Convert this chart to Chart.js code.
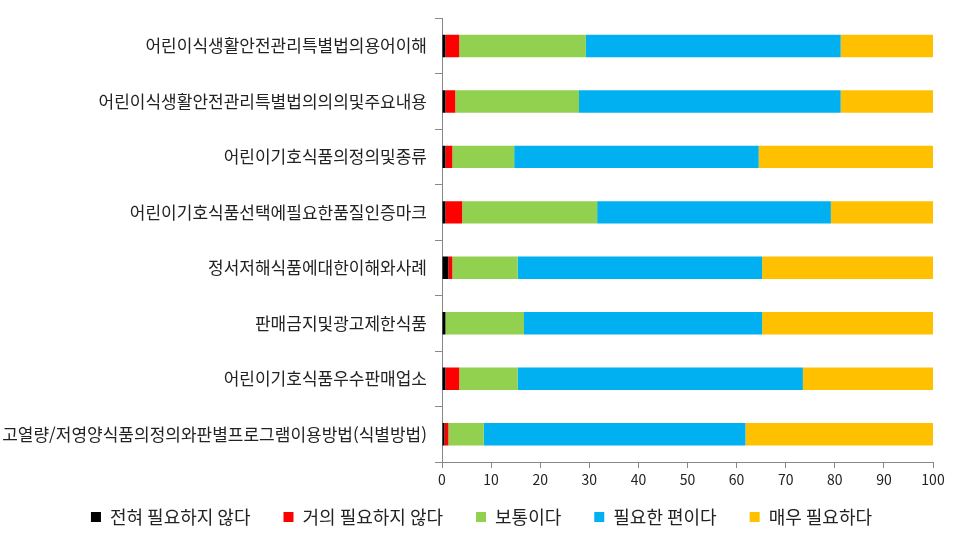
<!DOCTYPE html>
<html lang="ko">
<head>
    <meta charset="UTF-8">
    <title>Chart</title>
    <script src="https://cdn.jsdelivr.net/npm/chart.js@4.4.1/dist/chart.umd.min.js"></script>
    <style>
        html, body { margin: 0; padding: 0; background: #fff; }
        #wrap { width: 960px; height: 539px; }
    </style>
</head>
<body>
    <div id="wrap"><canvas id="chart"></canvas></div>
    <script>
        var topics = [
            '어린이식생활안전관리특별법의용어이해',
            '어린이식생활안전관리특별법의의의및주요내용',
            '어린이기호식품의정의및종류',
            '어린이기호식품선택에필요한품질인증마크',
            '정서저해식품에대한이해와사례',
            '판매금지및광고제한식품',
            '어린이기호식품우수판매업소',
            '고열량/저영양식품의정의와판별프로그램이용방법(식별방법)'
        ];
        var seriesNames = ['전혀 필요하지 않다', '거의 필요하지 않다', '보통이다', '필요한 편이다', '매우 필요하다'];
        var notAtAll = [0.7, 0.7, 0.7, 0.7, 1.3, 0.7, 0.7, 0.5];
        var hardly = [2.8, 2.0, 1.4, 3.4, 0.8, 0.0, 2.8, 0.8];
        var neutral = [25.8, 25.2, 12.6, 27.5, 13.3, 16.0, 11.9, 7.2];
        var somewhat = [51.9, 53.3, 49.8, 47.6, 49.8, 48.5, 58.1, 53.3];
        var very = [18.8, 18.8, 35.5, 20.8, 34.8, 34.8, 26.5, 38.2];
        var xTicks = [0, 10, 20, 30, 40, 50, 60, 70, 80, 90, 100];

        var colors = ['#000000', '#ff0000', '#92d050', '#00b0f0', '#ffc000'];
        var values = [notAtAll, hardly, neutral, somewhat, very];
        var fontFamily = "'Noto Sans CJK KR', 'Noto Sans', sans-serif";

        var datasets = seriesNames.map(function (name, i) {
            return {
                label: name,
                data: values[i],
                backgroundColor: colors[i],
                borderWidth: 0,
                barPercentage: 0.405,
                categoryPercentage: 1
            };
        });

        const ctx = document.getElementById('chart').getContext('2d');
        const myChart = new Chart(ctx, {
            type: 'bar',
            data: { labels: topics, datasets: datasets },
            options: {
                indexAxis: 'y',
                responsive: true,
                maintainAspectRatio: false,
                animation: false,
                layout: { padding: { top: 14, right: 27, bottom: 0, left: 0 } },
                scales: {
                    x: {
                        stacked: true,
                        min: 0,
                        max: 100,
                        afterBuildTicks: function (scale) {
                            scale.ticks = xTicks.map(function (v) { return { value: v }; });
                        },
                        afterFit: function (scale) { scale.height = 34; },
                        grid: { drawOnChartArea: false, tickLength: 6, color: '#888' },
                        border: { color: '#888' },
                        ticks: { color: '#222', padding: 3, font: { family: fontFamily, size: 14 } }
                    },
                    y: {
                        stacked: true,
                        afterFit: function (scale) { scale.width = 442; },
                        grid: { drawOnChartArea: false, offset: true, tickLength: 7, color: '#888' },
                        border: { color: '#888' },
                        ticks: { color: '#222', padding: 8, font: { family: fontFamily, size: 17 } }
                    }
                },
                plugins: {
                    tooltip: { enabled: false },
                    legend: {
                        position: 'bottom',
                        labels: {
                            boxWidth: 10,
                            boxHeight: 10,
                            padding: 33,
                            color: '#222',
                            font: { family: fontFamily, size: 18 }
                        }
                    }
                }
            }
        });

        // legend keeps its wide item gaps but takes less height and sits higher
        const legendFit = myChart.legend.fit;
        const legendDraw = myChart.legend.draw;
        myChart.legend.fit = function () {
            legendFit.call(this);
            this.height = 43;
        };
        myChart.legend.draw = function () {
            const top = this.top, left = this.left, right = this.right;
            this.top = top - 21;
            this.left = left + 15;
            this.right = right + 15;
            legendDraw.call(this);
            this.top = top;
            this.left = left;
            this.right = right;
        };
        myChart.update('none');
    </script>
</body>
</html>
